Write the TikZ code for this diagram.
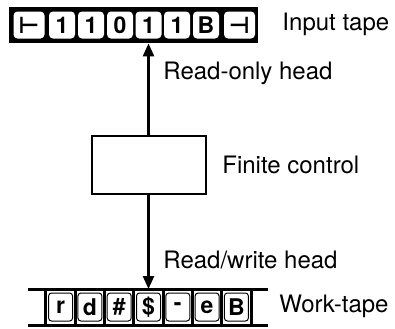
\documentclass[tikz,border=0pt]{standalone}
\usepackage{fontspec}
\setmainfont{TeX Gyre Heros}
\newfontfamily\symfont{DejaVu Sans}
\usetikzlibrary{arrows.meta,positioning}

\tikzset{
    incell/.style={fill=white, rounded corners=2pt, minimum width=13pt, minimum height=13.5pt,
        inner sep=0pt, font=\fontsize{11.5}{14}\selectfont\bfseries},
    inend/.style={incell, minimum width=15.5pt},
    wkcell/.style={draw, line width=0.5pt, rounded corners=1.5pt, minimum width=12pt,
        minimum height=14pt, inner sep=0pt, font=\fontsize{11.5}{14}\selectfont\bfseries},
    bar/.style={line width=1.5pt},
    lbl/.style={anchor=west, inner sep=0pt, font=\fontsize{12}{14}\selectfont},
    head/.style={-{Triangle[width=5.5pt,length=6.5pt]}, line width=1.3pt},
}

\begin{document}
\begin{tikzpicture}[x=0.5pt, y=0.5pt]
    \useasboundingbox (0,0) rectangle (395,328);

    % Input tape
    \node[fill=black, minimum width=124.5pt, minimum height=18pt, inner sep=0pt] (intape) at (133.5,303) {};
    \node[inend] (in0) at (29,303) {\symfont ⊢};
    \node[incell] (in1) at (62,303) {1};
    \node[incell] (in2) at (91,303) {1};
    \node[incell] (in3) at (120,303) {0};
    \node[incell] (in4) at (148.5,303) {1};
    \node[incell] (in5) at (177,303) {1};
    \node[incell] (in6) at (206,303) {B};
    \node[inend] (in7) at (239.5,303) {\symfont ⊣};
    \node[lbl] (inlbl) at (282,304) {Input tape};

    % Finite control
    \node[draw, line width=1pt, minimum width=57pt, minimum height=29pt, inner sep=0pt] (ctrl) at (148.5,163) {};
    \node[lbl] (ctrllbl) at (222,163) {Finite control};

    % Work tape
    \coordinate (wtopl) at (28,39);
    \coordinate (wtopr) at (268,39);
    \coordinate (wbotl) at (28,3);
    \coordinate (wbotr) at (268,3);
    \draw[bar] (wtopl) -- (wtopr);
    \draw[bar] (wbotl) -- (wbotr);
    \draw[bar] (45.9,39) -- (45.9,3);
    \draw[bar] (75.2,39) -- (75.2,3);
    \draw[bar] (104.5,39) -- (104.5,3);
    \draw[bar] (133.8,39) -- (133.8,3);
    \draw[bar] (163.1,39) -- (163.1,3);
    \draw[bar] (192.4,39) -- (192.4,3);
    \draw[bar] (221.7,39) -- (221.7,3);
    \draw[bar] (251,39) -- (251,3);
    \node[wkcell] (wk0) at (60.6,21) {r};
    \node[wkcell] (wk1) at (89.9,21) {d};
    \node[wkcell] (wk2) at (119.2,21) {\#};
    \node[wkcell] (wk3) at (148.5,21) {\$};
    \node[wkcell] (wk4) at (177.8,21) {-};
    \node[wkcell] (wk5) at (207.1,21) {e};
    \node[wkcell] (wk6) at (236.4,21) {B};
    \node[lbl] (wklbl) at (279,22) {Work-tape};

    % Heads
    \draw[head] (ctrl.north) -- (ctrl.north |- intape.south);
    \node[lbl] (rolbl) at (163,255) {Read-only head};
    \draw[head] (ctrl.south) -- (ctrl.south |- wtopl);
    \node[lbl] (rwlbl) at (163,68) {Read/write head};
\end{tikzpicture}
\end{document}
